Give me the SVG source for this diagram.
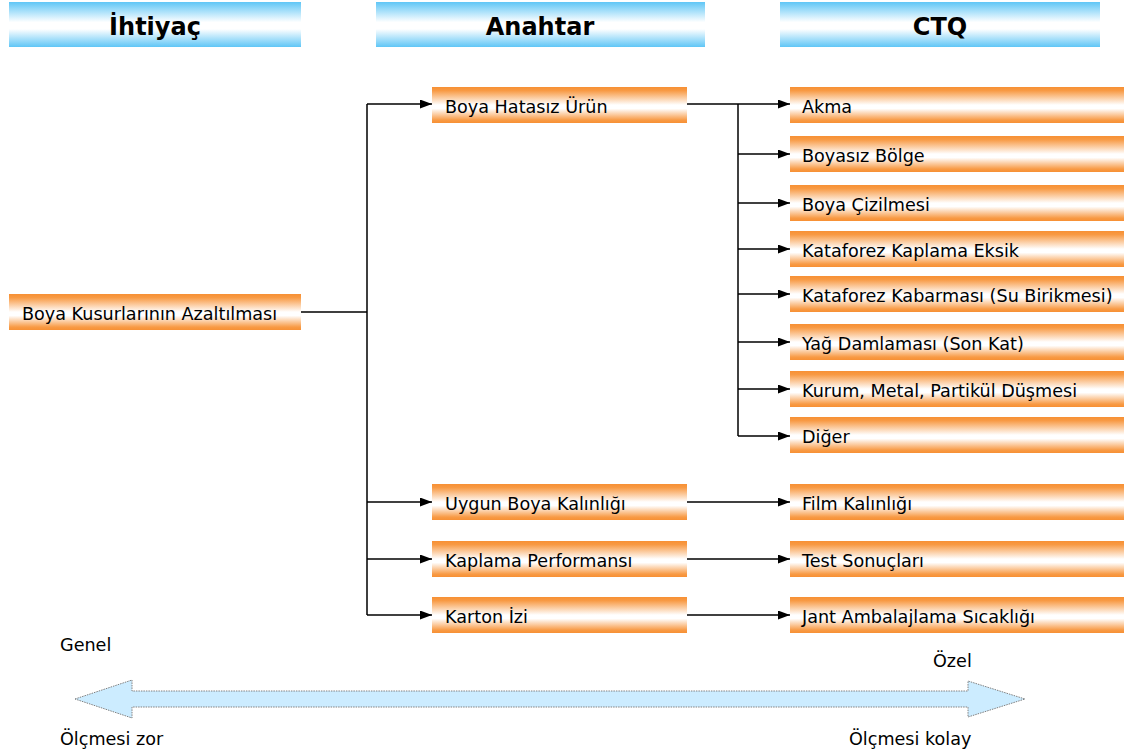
<svg xmlns="http://www.w3.org/2000/svg" width="1129" height="756" viewBox="0 0 1129 756">
  <style>
    .lbl { font-family: "DejaVu Sans", Verdana, sans-serif; font-size: 17.6px; fill: #000; }
    .hdr { font-family: "DejaVu Sans", Verdana, sans-serif; font-size: 24px; font-weight: bold; fill: #000; text-anchor: middle; }
    .box { fill: url(#orange); }
    .head { fill: url(#blue); }
    .wire { fill: none; stroke: #000; stroke-width: 1.5; }
  </style>
  <defs>
    <linearGradient id="orange" x1="0" y1="0" x2="0" y2="1">
      <stop offset="0" stop-color="#F79034"/>
      <stop offset="0.1" stop-color="#F89A44"/>
      <stop offset="0.5" stop-color="#FFFFFF"/>
      <stop offset="0.6" stop-color="#FFFFFF"/>
      <stop offset="0.92" stop-color="#F89A44"/>
      <stop offset="1" stop-color="#F79034"/>
    </linearGradient>
    <linearGradient id="blue" x1="0" y1="0" x2="0" y2="1">
      <stop offset="0" stop-color="#5FC6F6"/>
      <stop offset="0.45" stop-color="#FFFFFF"/>
      <stop offset="0.6" stop-color="#FFFFFF"/>
      <stop offset="1" stop-color="#5FC6F6"/>
    </linearGradient>
    <marker id="tip" viewBox="0 0 12 9" refX="12" refY="4.5" markerWidth="12" markerHeight="9" markerUnits="userSpaceOnUse" orient="auto">
      <path d="M0,0 L12,4.5 L0,9 Z" fill="#000"/>
    </marker>
  </defs>

  <!-- column headers -->
  <g id="header-ihtiyac"><rect class="head" x="9" y="2" width="292" height="45"/><text class="hdr" x="155" y="35">İhtiyaç</text></g>
  <g id="header-anahtar"><rect class="head" x="376" y="2" width="329" height="45"/><text class="hdr" x="540" y="35">Anahtar</text></g>
  <g id="header-ctq"><rect class="head" x="780" y="2" width="320" height="45"/><text class="hdr" x="940" y="35">CTQ</text></g>

  <!-- connectors -->
  <g id="connectors">
    <path class="wire" d="M301,312 H367 M367,104 V615"/>
    <path class="wire" d="M367,104 H432" marker-end="url(#tip)"/>
    <path class="wire" d="M367,502 H432" marker-end="url(#tip)"/>
    <path class="wire" d="M367,559 H432" marker-end="url(#tip)"/>
    <path class="wire" d="M367,615 H432" marker-end="url(#tip)"/>
    <path class="wire" d="M738,104 V436"/>
    <path class="wire" d="M687,104 H790" marker-end="url(#tip)"/>
    <path class="wire" d="M738,154 H790" marker-end="url(#tip)"/>
    <path class="wire" d="M738,203 H790" marker-end="url(#tip)"/>
    <path class="wire" d="M738,249 H790" marker-end="url(#tip)"/>
    <path class="wire" d="M738,294 H790" marker-end="url(#tip)"/>
    <path class="wire" d="M738,342 H790" marker-end="url(#tip)"/>
    <path class="wire" d="M738,389 H790" marker-end="url(#tip)"/>
    <path class="wire" d="M738,436 H790" marker-end="url(#tip)"/>
    <path class="wire" d="M687,502 H790" marker-end="url(#tip)"/>
    <path class="wire" d="M687,559 H790" marker-end="url(#tip)"/>
    <path class="wire" d="M687,615 H790" marker-end="url(#tip)"/>
  </g>

  <!-- need -->
  <g id="n-need"><rect class="box" x="9" y="294" width="292" height="36"/><text class="lbl" x="22" y="320">Boya Kusurlarının Azaltılması</text></g>

  <!-- key drivers -->
  <g id="n-hatasiz"><rect class="box" x="432" y="87" width="255" height="36"/><text class="lbl" x="445" y="113">Boya Hatasız Ürün</text></g>
  <g id="n-kalinlik"><rect class="box" x="432" y="484" width="255" height="36"/><text class="lbl" x="445" y="510">Uygun Boya Kalınlığı</text></g>
  <g id="n-performans"><rect class="box" x="432" y="541" width="255" height="36"/><text class="lbl" x="445" y="567">Kaplama Performansı</text></g>
  <g id="n-karton"><rect class="box" x="432" y="597" width="255" height="36"/><text class="lbl" x="445" y="623">Karton İzi</text></g>

  <!-- CTQs -->
  <g id="c-akma"><rect class="box" x="790" y="87" width="334" height="36"/><text class="lbl" x="802" y="113">Akma</text></g>
  <g id="c-boyasiz"><rect class="box" x="790" y="136" width="334" height="36"/><text class="lbl" x="802" y="162">Boyasız Bölge</text></g>
  <g id="c-cizilme"><rect class="box" x="790" y="185" width="334" height="36"/><text class="lbl" x="802" y="211">Boya Çizilmesi</text></g>
  <g id="c-kataforez-eksik"><rect class="box" x="790" y="231" width="334" height="36"/><text class="lbl" x="802" y="257">Kataforez Kaplama Eksik</text></g>
  <g id="c-kabarma"><rect class="box" x="790" y="276" width="334" height="36"/><text class="lbl" x="802" y="302">Kataforez Kabarması (Su Birikmesi)</text></g>
  <g id="c-yag"><rect class="box" x="790" y="324" width="334" height="36"/><text class="lbl" x="802" y="350">Yağ Damlaması (Son Kat)</text></g>
  <g id="c-kurum"><rect class="box" x="790" y="371" width="334" height="36"/><text class="lbl" x="802" y="397">Kurum, Metal, Partikül Düşmesi</text></g>
  <g id="c-diger"><rect class="box" x="790" y="417" width="334" height="36"/><text class="lbl" x="802" y="443">Diğer</text></g>
  <g id="c-film"><rect class="box" x="790" y="484" width="334" height="36"/><text class="lbl" x="802" y="510">Film Kalınlığı</text></g>
  <g id="c-test"><rect class="box" x="790" y="541" width="334" height="36"/><text class="lbl" x="802" y="567">Test Sonuçları</text></g>
  <g id="c-jant"><rect class="box" x="790" y="597" width="334" height="36"/><text class="lbl" x="802" y="623">Jant Ambalajlama Sıcaklığı</text></g>

  <!-- scale: general vs. specific -->
  <g id="scale">
    <path d="M75,699 L132,680 L132,691 L968,691 L968,681 L1025,699 L968,717 L968,707 L132,707 L132,718 Z" fill="#CCECFF" stroke="#808080" stroke-width="1" stroke-dasharray="1.5,1"/>
    <text class="lbl" x="60" y="651">Genel</text>
    <text class="lbl" x="933" y="667">Özel</text>
    <text class="lbl" x="60" y="745">Ölçmesi zor</text>
    <text class="lbl" x="849" y="745">Ölçmesi kolay</text>
  </g>
</svg>
